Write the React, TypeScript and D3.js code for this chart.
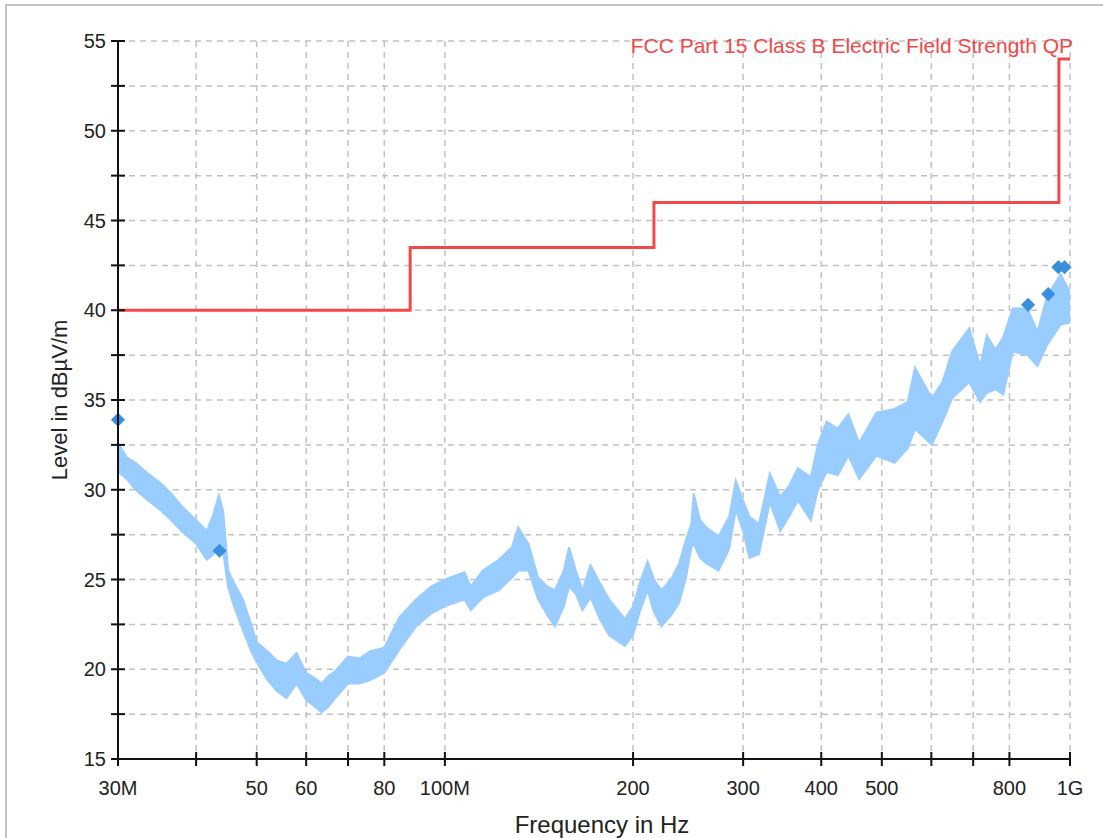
import React from 'react';
import * as d3 from 'd3';

const traceFreq = [
  30, 31, 32, 33.5, 35, 36.5, 37.9, 40, 41.6, 42.6, 43.5, 44.2, 45, 46, 47.5, 49, 50, 52, 53.8, 55.8,
  57.9, 60, 62, 63.5, 65, 66.8, 70, 73, 76, 80, 84.6, 90, 95, 100, 107.5, 110, 115, 122, 128, 131,
  136, 141, 146, 150, 155, 158, 162, 166, 171, 177, 183, 194, 200, 205, 211, 216, 222, 230, 237, 243,
  248, 250, 256, 262, 274, 285, 292, 300, 307, 318, 331, 344, 355, 367, 385, 395, 408, 425, 442, 460,
  490, 524, 550, 565, 601, 625, 648, 690, 718, 736, 760, 782, 810, 855, 887, 920, 966, 1000,
];
const traceUpper = [
  32.6, 31.8, 31.5, 30.9, 30.4, 29.8, 29.1, 28.3, 27.7, 28.6, 29.7, 28.8, 25.5, 24.8, 23.9, 22.5, 21.5, 21.0, 20.5, 20.3,
  20.9, 19.8, 19.5, 19.2, 19.6, 19.9, 20.7, 20.6, 21.0, 21.2, 22.9, 23.9, 24.6, 25.0, 25.4, 24.6, 25.5, 26.1, 26.8, 27.9,
  27.0, 25.1, 24.6, 24.4, 25.5, 26.8, 25.5, 24.4, 25.8, 24.8, 23.9, 22.8, 23.5, 24.8, 26.0, 25.0, 24.4, 25.0, 25.9, 27.2,
  28.1, 29.8, 28.3, 27.9, 27.4, 28.5, 30.5, 29.4, 28.5, 28.1, 30.9, 29.6, 30.2, 31.2, 30.7, 32.5, 33.8, 33.4, 34.2, 32.6,
  34.3, 34.5, 34.9, 36.8, 35.1, 36.0, 37.7, 39.0, 36.9, 38.6, 37.8, 38.5, 40.1, 40.1, 38.8, 40.8, 42.0, 41.0,
];
const traceLower = [
  31.0, 30.6, 30.0, 29.4, 28.9, 28.3, 27.7, 27.0, 26.1, 26.4, 27.0, 26.5, 24.6, 23.5, 22.2, 21.0, 20.4, 19.4, 18.8, 18.4,
  19.2, 18.3, 17.9, 17.6, 17.9, 18.4, 19.2, 19.2, 19.4, 19.8, 21.1, 22.4, 23.1, 23.5, 23.9, 23.3, 24.0, 24.4, 25.1, 25.5,
  25.5, 23.9, 23.0, 22.4, 23.5, 24.6, 24.2, 23.3, 24.0, 22.8, 21.9, 21.3, 21.9, 23.2, 24.4, 23.2, 22.4, 23.0, 23.7, 25.1,
  26.8, 27.0, 26.2, 25.9, 25.5, 26.7, 28.9, 27.7, 26.2, 26.4, 29.3, 27.7, 28.5, 29.4, 28.3, 30.0, 31.0, 30.8, 31.9, 30.6,
  31.9, 31.5, 32.3, 33.4, 32.5, 33.8, 35.1, 36.0, 34.9, 35.4, 35.6, 35.3, 37.7, 37.5, 36.9, 38.1, 39.2, 39.3,
];

// quasi-peak markers
const peakFreq = [30, 43.6, 857, 923, 958, 980];
const peakLevel = [33.9, 26.6, 40.3, 40.9, 42.4, 42.4];

// FCC Part 15 Class B limit (step after)
const limitFreq = [30, 88, 216, 960, 1000];
const limitLevel = [40, 43.5, 46, 54, 54];

const xTicks = [30, 40, 50, 60, 70, 80, 100, 200, 300, 400, 500, 600, 700, 800, 1000];
const xTickLabels: Record<number, string> = {
  30: '30M', 50: '50', 60: '60', 80: '80', 100: '100M', 200: '200', 300: '300', 400: '400', 500: '500', 800: '800', 1000: '1G',
};
const yTicks = [15, 17.5, 20, 22.5, 25, 27.5, 30, 32.5, 35, 37.5, 40, 42.5, 45, 47.5, 50, 52.5, 55];
const yTickLabels = [15, 20, 25, 30, 35, 40, 45, 50, 55];

const W = 1103;
const H = 838;
const FONT = '"Liberation Sans", Arial, sans-serif';

export default function App() {
  const x = d3.scaleLog().domain([30, 1000]).range([118, 1070]);
  const y = d3.scaleLinear().domain([15, 55]).range([759, 41]);

  const trace = traceFreq.map((f, i) => ({ f, hi: traceUpper[i], lo: traceLower[i] }));
  const area = d3
    .area<{ f: number; hi: number; lo: number }>()
    .x((d) => x(d.f))
    .y0((d) => y(d.lo))
    .y1((d) => y(d.hi))
    .curve(d3.curveLinear);

  const limit = limitFreq.map((f, i) => [f, limitLevel[i]] as [number, number]);
  const limitLine = d3
    .line<[number, number]>()
    .x((d) => x(d[0]))
    .y((d) => y(d[1]))
    .curve(d3.curveStepAfter);

  const diamond = d3.symbol().type(d3.symbolSquare).size(100)();

  const [x0, x1] = x.range();
  const [yb, yt] = y.range();

  return (
    <svg
      width={W}
      height={H}
      style={{ position: 'absolute', left: 0, top: 0, background: '#fff' }}
      fontFamily={FONT}
    >
      <rect x={6} y={5} width={W + 10} height={H + 10} fill="#fff" stroke="#c4c4c4" strokeWidth={2} />
      <defs>
        <clipPath id="plot">
          <rect x={x0} y={yt} width={x1 - x0} height={yb - yt} />
        </clipPath>
      </defs>

      {/* grid */}
      <g stroke="#c2c2c2" strokeWidth={1.5} strokeDasharray="6,5">
        {yTicks.map((t) => (
          <line key={'gy' + t} x1={x0} x2={x1} y1={y(t)} y2={y(t)} />
        ))}
        {xTicks.map((t) => (
          <line key={'gx' + t} x1={x(t)} x2={x(t)} y1={yt} y2={yb} />
        ))}
      </g>

      {/* measured trace */}
      <g clipPath="url(#plot)">
        <path d={area(trace) ?? ''} fill="#99ccff" stroke="#99ccff" strokeWidth={2} strokeLinejoin="miter" />
      </g>

      {/* limit line */}
      <path d={limitLine(limit) ?? ''} fill="none" stroke="#f24848" strokeWidth={3} />
      <text x={1073} y={53} textAnchor="end" fontSize={21} fill="#f24848">
        FCC Part 15 Class B Electric Field Strength QP
      </text>

      {/* peaks */}
      {peakFreq.map((f, i) => (
        <path
          key={'pk' + i}
          d={diamond ?? ''}
          transform={`translate(${x(f)},${y(peakLevel[i])}) rotate(45)`}
          fill="#3a8fdc"
        />
      ))}

      {/* axes */}
      <g stroke="#111" strokeWidth={2}>
        <line x1={x0} x2={x0} y1={yt} y2={yb} />
        <line x1={x0} x2={x1} y1={yb} y2={yb} />
        {yTicks.map((t) => (
          <line key={'ty' + t} x1={x0 - 7} x2={x0 + 7} y1={y(t)} y2={y(t)} />
        ))}
        {xTicks.map((t) => (
          <line key={'tx' + t} x1={x(t)} x2={x(t)} y1={yb - 7} y2={yb + 7} />
        ))}
      </g>
      <g fontSize={20} fill="#222">
        {yTickLabels.map((t) => (
          <text key={'ly' + t} x={106} y={y(t)} dy="0.36em" textAnchor="end">
            {t}
          </text>
        ))}
        {xTicks
          .filter((t) => xTickLabels[t])
          .map((t) => (
            <text key={'lx' + t} x={x(t)} y={795} textAnchor="middle">
              {xTickLabels[t]}
            </text>
          ))}
      </g>
      <text x={602} y={833} textAnchor="middle" fontSize={24} fill="#222">
        Frequency in Hz
      </text>
      <text
        transform={`translate(67,${(yt + yb) / 2}) rotate(-90)`}
        textAnchor="middle"
        fontSize={22}
        fill="#222"
      >
        Level in dBµV/m
      </text>
    </svg>
  );
}
